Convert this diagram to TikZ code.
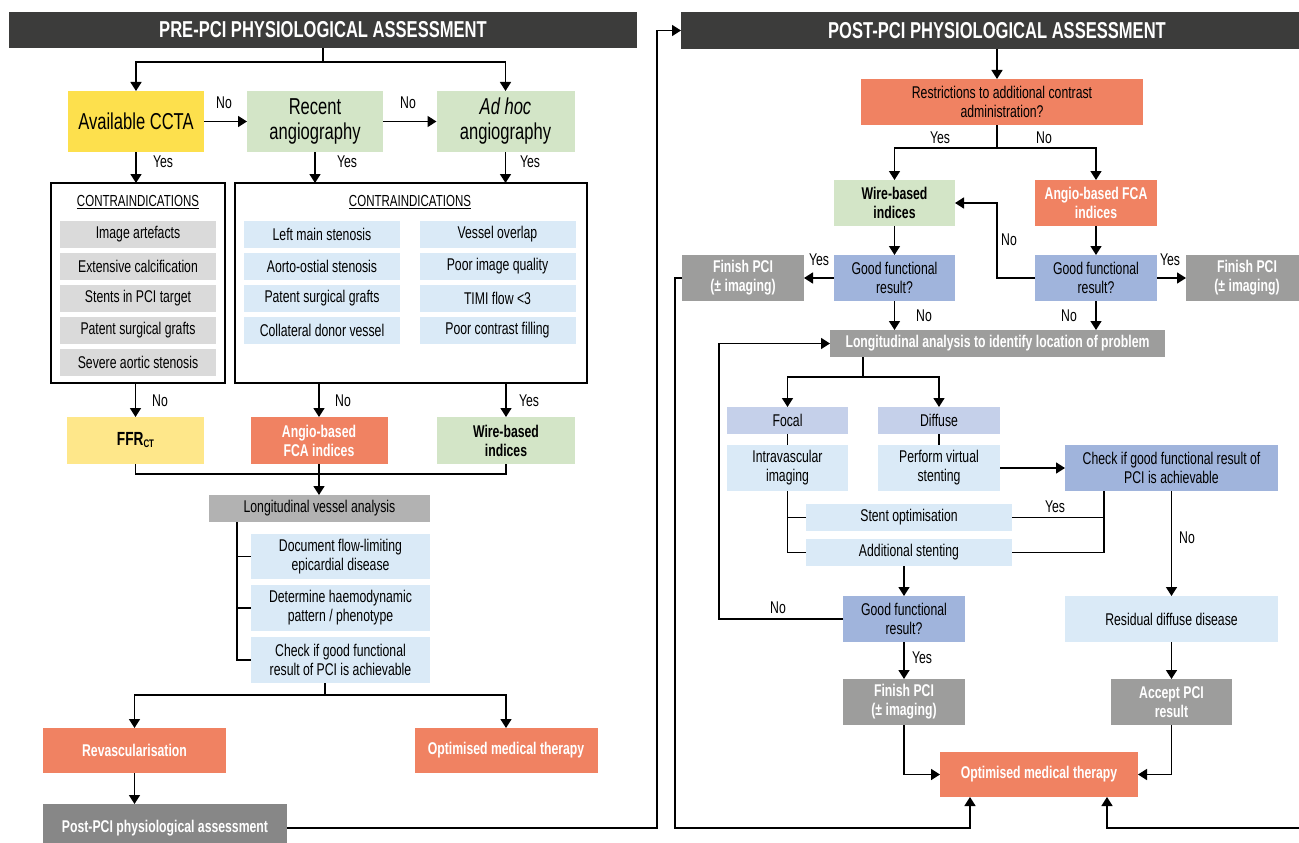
\documentclass[tikz,border=0pt]{standalone}
\usepackage{fontspec}
\setmainfont{Liberation Sans}[FakeStretch=0.72]
\usetikzlibrary{arrows.meta}
\definecolor{hdr}{HTML}{3C3C3B}
\definecolor{yel}{HTML}{FDE04D}
\definecolor{lyel}{HTML}{FEE78A}
\definecolor{grn}{HTML}{D3E5C7}
\definecolor{salm}{HTML}{F08262}
\definecolor{lgray}{HTML}{DADADA}
\definecolor{lblue}{HTML}{DAEAF7}
\definecolor{peri}{HTML}{A0B4DC}
\definecolor{lav}{HTML}{C5D0EA}
\definecolor{mgray}{HTML}{B2B2B2}
\definecolor{fgray}{HTML}{9D9D9C}
\definecolor{dgray}{HTML}{878787}
\newcommand\myN{\fontsize{17}{19}\selectfont}
\newcommand\myB{\fontsize{17}{19}\selectfont\bfseries}
\newcommand\myH{\fontsize{23}{25}\selectfont\bfseries}
\newcommand\myL{\fontsize{23}{25}\selectfont}
\newcommand\myY{\fontsize{17}{19}\selectfont}
\newcommand\myS{\fontsize{17}{19}\selectfont\bfseries}
\begin{document}
\begin{tikzpicture}[x=1pt,y=-1pt,
 bx/.style={inner sep=1pt,outer sep=0pt,align=center,font=\myN,text=black},
 wb/.style={bx,font=\myB,text=white},
 kb/.style={bx,font=\myB},
 hd/.style={bx,font=\myH,text=white,fill=hdr},
 arr/.style={line width=1.6pt,-{Triangle[length=9pt,width=11pt]}},
 ln/.style={line width=1.6pt},
 lbl/.style={font=\myY,inner sep=0pt},
 frame/.style={draw=black,line width=1.8pt,inner sep=0pt,outer sep=0pt},
 ]
\fill[white] (0,0) rectangle (1299,843);
\clip (0,0) rectangle (1299,843);
% ---------------- LEFT PANEL ----------------
\node[hd,minimum width=628pt,minimum height=36pt] (hpre) at (323,30) {PRE-PCI PHYSIOLOGICAL ASSESSMENT};
\node[bx,font=\myL,fill=yel,minimum width=136pt,minimum height=61pt] (ccta) at (136,121.5) {Available CCTA};
\node[bx,font=\myL,fill=grn,minimum width=136pt,minimum height=61pt] (recent) at (315,121.5) {Recent\\angiography};
\node[bx,font=\myL,fill=grn,minimum width=138pt,minimum height=61pt] (adhoc) at (505.5,121.5) {\textit{Ad hoc}\\angiography};
\node[frame,minimum width=174pt,minimum height=200pt] (cl) at (138,283) {};
\node[frame,minimum width=352pt,minimum height=200pt] (cr) at (411,283) {};
\node[bx,font=\fontsize{16}{18}\selectfont] (clt) at (138,202) {\underline{CONTRAINDICATIONS}};
\node[bx,font=\fontsize{16}{18}\selectfont] (crt) at (410,202) {\underline{CONTRAINDICATIONS}};
\tikzset{gi/.style={bx,fill=lgray,minimum width=156pt,minimum height=27pt},
         bi/.style={bx,fill=lblue,minimum width=156pt,minimum height=27pt}}
\node[gi] (g1) at (138,234.5) {Image artefacts};
\node[gi] (g2) at (138,266.5) {Extensive calcification};
\node[gi] (g3) at (138,298.5) {Stents in PCI target};
\node[gi] (g4) at (138,330.5) {Patent surgical grafts};
\node[gi] (g5) at (138,362.5) {Severe aortic stenosis};
\node[bi] (l1) at (322,234.5) {Left main stenosis};
\node[bi] (l2) at (322,266.5) {Aorto-ostial stenosis};
\node[bi] (l3) at (322,298.5) {Patent surgical grafts};
\node[bi] (l4) at (322,330.5) {Collateral donor vessel};
\node[bi] (r1) at (497.5,234.5) {Vessel overlap};
\node[bi] (r2) at (497.5,266.5) {Poor image quality};
\node[bi] (r3) at (497.5,298.5) {TIMI flow <3};
\node[bi] (r4) at (497.5,330.5) {Poor contrast filling};
\node[kb,font=\fontsize{19}{21}\selectfont\bfseries,fill=lyel,minimum width=137pt,minimum height=47pt] (ffr) at (135.5,440.5) {FFR\raisebox{-2pt}{\fontsize{11}{11}\selectfont CT}};
\node[wb,fill=salm,minimum width=137pt,minimum height=47pt] (angio) at (319,440.5) {Angio-based\\FCA indices};
\node[kb,fill=grn,minimum width=138pt,minimum height=47pt] (wire) at (506,440.5) {Wire-based\\indices};
\node[bx,fill=mgray,minimum width=221pt,minimum height=27pt] (lva) at (319.5,508.5) {Longitudinal vessel analysis};
\node[bx,fill=lblue,minimum width=179pt,minimum height=45pt] (doc) at (340.5,556.5) {Document flow-limiting\\epicardial disease};
\node[bx,fill=lblue,minimum width=179pt,minimum height=46pt] (det) at (340.5,608) {Determine haemodynamic\\pattern / phenotype};
\node[bx,fill=lblue,minimum width=179pt,minimum height=46pt] (chk) at (340.5,660) {Check if good functional\\result of PCI is achievable};
\node[wb,fill=salm,minimum width=183pt,minimum height=45pt] (rev) at (134.5,750.5) {Revascularisation};
\node[wb,fill=salm,minimum width=183pt,minimum height=45pt] (omt) at (506,750.5) {Optimised medical therapy};
\node[wb,fill=dgray,minimum width=244pt,minimum height=48pt] (post) at (165,828) {Post-PCI physiological assessment};
% labels left
\node[lbl] (n1) at (224,103) {No};
\node[lbl] (n2) at (408,103) {No};
\node[lbl] (y1) at (163,162) {Yes};
\node[lbl] (y2) at (347,162) {Yes};
\node[lbl] (y3) at (530,162) {Yes};
\node[lbl] (n3) at (160,401) {No};
\node[lbl] (n4) at (343,401) {No};
\node[lbl] (y4) at (529,401) {Yes};
% connectors left
\coordinate (j1) at (323,62);
\draw[ln] (hpre.south) -- (j1);
\draw[arr] (j1) -| (ccta.north);
\draw[arr] (j1) -| (adhoc.north);
\draw[arr] (ccta.east) -- (recent.west);
\draw[arr] (recent.east) -- (adhoc.west);
\draw[arr] (ccta.south) -- (ccta.south |- cl.north);
\draw[arr] (recent.south) -- (recent.south |- cr.north);
\draw[arr] (adhoc.south) -- (adhoc.south |- cr.north);
\draw[arr] (ffr.north |- cl.south) -- (ffr.north);
\draw[arr] (angio.north |- cr.south) -- (angio.north);
\draw[arr] (wire.north |- cr.south) -- (wire.north);
\coordinate (m1) at (319,474);
\draw[ln] (ffr.south) |- (m1) -| (wire.south);
\draw[arr] (angio.south) -- (angio.south |- lva.north);
\coordinate (b0) at (237,522);
\draw[ln] (b0) |- (chk.west);
\draw[ln] (b0 |- doc.west) -- (doc.west);
\draw[ln] (b0 |- det.west) -- (det.west);
\coordinate (m2) at (325,695);
\draw[ln] (m2 |- chk.south) -- (m2);
\draw[arr] (m2) -| (rev.north);
\draw[arr] (m2) -| (omt.north);
\draw[arr] (rev.south) -- (rev.south |- post.north);
% ---------------- RIGHT PANEL ----------------
\node[hd,minimum width=632pt,minimum height=37pt] (hpost) at (997,30.5) {POST-PCI PHYSIOLOGICAL ASSESSMENT};
\coordinate (cL1) at (657,0);
\draw[arr] (post.east) -| (cL1 |- hpost.west) -- (hpost.west);
\node[bx,fill=salm,minimum width=282pt,minimum height=46pt] (restr) at (1002,102) {Restrictions to additional contrast\\administration?};
\node[kb,fill=grn,minimum width=121pt,minimum height=46pt] (wire2) at (894.5,203) {Wire-based\\indices};
\node[wb,fill=salm,minimum width=122pt,minimum height=46pt] (angio2) at (1096,203) {Angio-based FCA\\indices};
\node[bx,fill=peri,minimum width=121pt,minimum height=46pt] (gfr1) at (894.5,278) {Good functional\\result?};
\node[bx,fill=peri,minimum width=122pt,minimum height=46pt] (gfrR) at (1096,278) {Good functional\\result?};
\node[wb,fill=fgray,minimum width=122pt,minimum height=46pt] (fin1) at (743,278) {Finish PCI\\(± imaging)};
\node[wb,fill=fgray,minimum width=122pt,minimum height=46pt] (finR) at (1247,278) {Finish PCI\\(± imaging)};
\node[bx,font=\myS,text=white,fill=fgray,minimum width=335pt,minimum height=27pt] (lap) at (997.5,343.5) {Longitudinal analysis to identify location of problem};
\node[bx,fill=lav,minimum width=121pt,minimum height=27pt] (focal) at (787.5,420.5) {Focal};
\node[bx,fill=lav,minimum width=122pt,minimum height=27pt] (diffuse) at (939,420.5) {Diffuse};
\node[bx,fill=lblue,minimum width=121pt,minimum height=46pt] (ivus) at (787.5,468) {Intravascular\\imaging};
\node[bx,fill=lblue,minimum width=122pt,minimum height=46pt] (pvs) at (939,468) {Perform virtual\\stenting};
\node[bx,fill=peri,minimum width=213pt,minimum height=46pt] (chk2) at (1171.5,468) {Check if good functional result of\\PCI is achievable};
\node[bx,fill=lblue,minimum width=206pt,minimum height=27pt] (stopt) at (909,517.5) {Stent optimisation};
\node[bx,fill=lblue,minimum width=206pt,minimum height=27pt] (addst) at (909,552.5) {Additional stenting};
\node[bx,fill=peri,minimum width=122pt,minimum height=46pt] (gfr3) at (904,619) {Good functional\\result?};
\node[bx,fill=lblue,minimum width=213pt,minimum height=46pt] (residual) at (1171.5,619) {Residual diffuse disease};
\node[wb,fill=fgray,minimum width=122pt,minimum height=46pt] (fin2) at (904,702) {Finish PCI\\(± imaging)};
\node[wb,fill=fgray,minimum width=121pt,minimum height=46pt] (accept) at (1171.5,702) {Accept PCI\\result};
\node[wb,fill=salm,minimum width=198pt,minimum height=45pt] (omt2) at (1039,774.5) {Optimised medical therapy};
% labels right
\node[lbl] (ry1) at (940,138) {Yes};
\node[lbl] (rn1) at (1044,138) {No};
\node[lbl] (rn2) at (1009,240) {No};
\node[lbl] (ry2) at (819,260) {Yes};
\node[lbl] (ry3) at (1170,260) {Yes};
\node[lbl] (rn3) at (924,316) {No};
\node[lbl] (rn4) at (1069,316) {No};
\node[lbl] (ry4) at (1055,507) {Yes};
\node[lbl] (rn5) at (1187,538) {No};
\node[lbl] (rn6) at (778,608) {No};
\node[lbl] (ry5) at (922,658) {Yes};
% connectors right
\draw[arr] (hpost.south) -- (hpost.south |- restr.north);
\coordinate (m3) at (997,148);
\draw[ln] (m3 |- restr.south) -- (m3);
\draw[arr] (m3) -| (wire2.north);
\draw[arr] (m3) -| (angio2.north);
\draw[arr] (wire2.south) -- (gfr1.north);
\draw[arr] (angio2.south) -- (gfrR.north);
\draw[arr] (gfr1.west) -- (fin1.east);
\draw[arr] (gfrR.east) -- (finR.west);
\coordinate (nl) at (997,0);
\draw[arr] (gfrR.west) -- (gfrR.west -| nl) |- (wire2.east);
\draw[arr] (gfr1.south) -- (gfr1.south |- lap.north);
\draw[arr] (gfrR.south) -- (gfrR.south |- lap.north);
\coordinate (lx) at (719,0);
\draw[arr] (gfr3.west) -- (gfr3.west -| lx) -- (lx |- lap.west) -- (lap.west);
\coordinate (m4) at (863,377);
\draw[ln] (m4 |- lap.south) -- (m4);
\draw[arr] (m4) -| (focal.north);
\draw[arr] (m4) -| (diffuse.north);
\draw[ln] (focal.south) -- (ivus.north);
\draw[ln] (diffuse.south) -- (pvs.north);
\draw[arr] (pvs.east) -- (chk2.west);
\draw[ln] (ivus.south) |- (addst.west);
\draw[ln] (ivus.south |- stopt.west) -- (stopt.west);
\coordinate (rq) at (1104,0);
\draw[ln] (chk2.south -| rq) |- (addst.east);
\draw[ln] (rq |- stopt.east) -- (stopt.east);
\draw[arr] (chk2.south) -- (residual.north);
\draw[arr] (gfr3.north |- addst.south) -- (gfr3.north);
\draw[arr] (gfr3.south) -- (fin2.north);
\draw[arr] (residual.south) -- (accept.north);
\draw[arr] (fin2.south) |- (omt2.west);
\draw[arr] (accept.south) |- (omt2.east);
\coordinate (lx2) at (675,828);
\coordinate (b1) at (970,828);
\coordinate (b2) at (1107,828);
\draw[arr] (fin1.west) -| (lx2) -- (b1) -- (b1 |- omt2.south);
\draw[arr] (finR.east) -- ++(12,0) |- (b2) -- (b2 |- omt2.south);
\end{tikzpicture}
\end{document}
